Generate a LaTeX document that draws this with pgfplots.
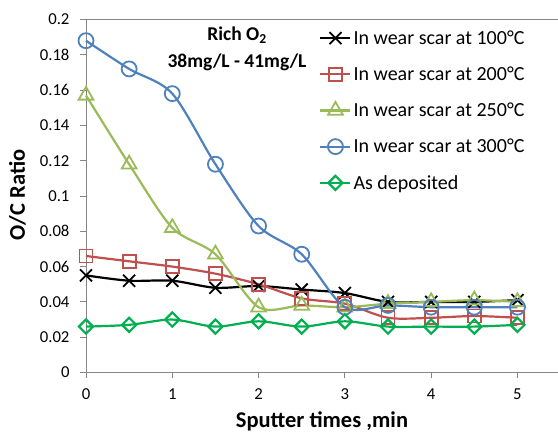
\documentclass[border=0pt]{standalone}
\usepackage{fontspec}
\setmainfont{Carlito}
\usepackage{pgfplots}
\pgfplotsset{compat=1.18}
\definecolor{c200}{RGB}{192,80,77}
\definecolor{c250}{RGB}{155,187,89}
\definecolor{c300}{RGB}{79,129,189}
\definecolor{cdep}{RGB}{0,176,80}
\definecolor{axgray}{RGB}{134,134,134}
\begin{document}
\begin{tikzpicture}
\begin{axis}[
  at={(86pt,-372.5pt)}, anchor=south west, scale only axis,
  width=472pt, height=353pt,
  xmin=0, xmax=5.47, ymin=0, ymax=0.2,
  axis lines=left, axis line style={-, draw=axgray, line width=0.8pt},
  xtick={0,1,2,3,4,5},
  ytick={0,0.02,0.04,0.06,0.08,0.1,0.12,0.14,0.16,0.18,0.2},
  tick align=outside, major tick length=6pt,
  tick style={draw=axgray, line width=0.8pt},
  yticklabel style={/pgf/number format/fixed, /pgf/number format/precision=2, xshift=-7pt},
  xticklabel style={yshift=-7pt},
  /pgf/number format/assume math mode=true,
  tick label style={font=\fontsize{16.7}{19}\selectfont},
  xlabel={Sputter times ,min}, ylabel={O/C Ratio},
  label style={font=\bfseries\fontsize{22.5}{26}\selectfont},
  xlabel style={at={(axis description cs:0.5,-0.138)}, anchor=center},
  ylabel style={at={(axis description cs:-0.145,0.503)}, anchor=center},
  clip=false,
  legend style={at={(axis description cs:0.494,0.975)}, anchor=north west,
    draw=none, fill=none, font=\fontsize{20}{24}\selectfont, row sep=17pt,
    inner sep=0pt, nodes={inner sep=2pt}},
  legend cell align=left,
  legend image code/.code={\draw[mark repeat=2,mark phase=2,#1] plot coordinates {(0pt,0pt) (15pt,0pt) (30pt,0pt)};},
  every axis plot/.append style={line width=2.2pt, smooth, mark options={solid, line width=1.8pt, fill=none}},
]
\addplot[black, mark=x, mark size=8.5pt] coordinates {
(0,0.055) (0.5,0.052) (1,0.052) (1.5,0.048) (2,0.049) (2.5,0.047) (3,0.045) (3.5,0.040) (4,0.040) (4.5,0.040) (5,0.041)};
\addlegendentry{In wear scar at 100°C}
\addplot[c200, mark=square, mark size=6.5pt] coordinates {
(0,0.066) (0.5,0.063) (1,0.060) (1.5,0.056) (2,0.050) (2.5,0.042) (3,0.039) (3.5,0.031) (4,0.031) (4.5,0.032) (5,0.031)};
\addlegendentry{In wear scar at 200°C}
\addplot[c250, mark=triangle, mark size=8.5pt] coordinates {
(0,0.157) (0.5,0.118) (1,0.082) (1.5,0.067) (2,0.037) (2.5,0.038) (3,0.037) (3.5,0.039) (4,0.040) (4.5,0.041) (5,0.040)};
\addlegendentry{In wear scar at 250°C}
\addplot[c300, mark=o, mark size=7.5pt] coordinates {
(0,0.188) (0.5,0.172) (1,0.158) (1.5,0.118) (2,0.083) (2.5,0.067) (3,0.037) (3.5,0.038) (4,0.037) (4.5,0.037) (5,0.037)};
\addlegendentry{In wear scar at 300°C}
\addplot[cdep, mark=square, mark size=5pt, mark options={rotate=45}] coordinates {
(0,0.026) (0.5,0.027) (1,0.030) (1.5,0.026) (2,0.029) (2.5,0.026) (3,0.029) (3.5,0.026) (4,0.026) (4.5,0.026) (5,0.027)};
\addlegendentry{As deposited}
\draw[axgray, line width=0.8pt] (rel axis cs:0,1) -- (rel axis cs:1,1);
\node[font=\bfseries\fontsize{19.5}{23}\selectfont] at (rel axis cs:0.32,0.956) {Rich O\textsubscript{2}};
\node[font=\bfseries\fontsize{19.5}{23}\selectfont] at (rel axis cs:0.32,0.878) {38mg/L - 41mg/L};
\end{axis}
\pgfresetboundingbox
\path (0,0) rectangle (558pt,-435pt);
\end{tikzpicture}
\end{document}
